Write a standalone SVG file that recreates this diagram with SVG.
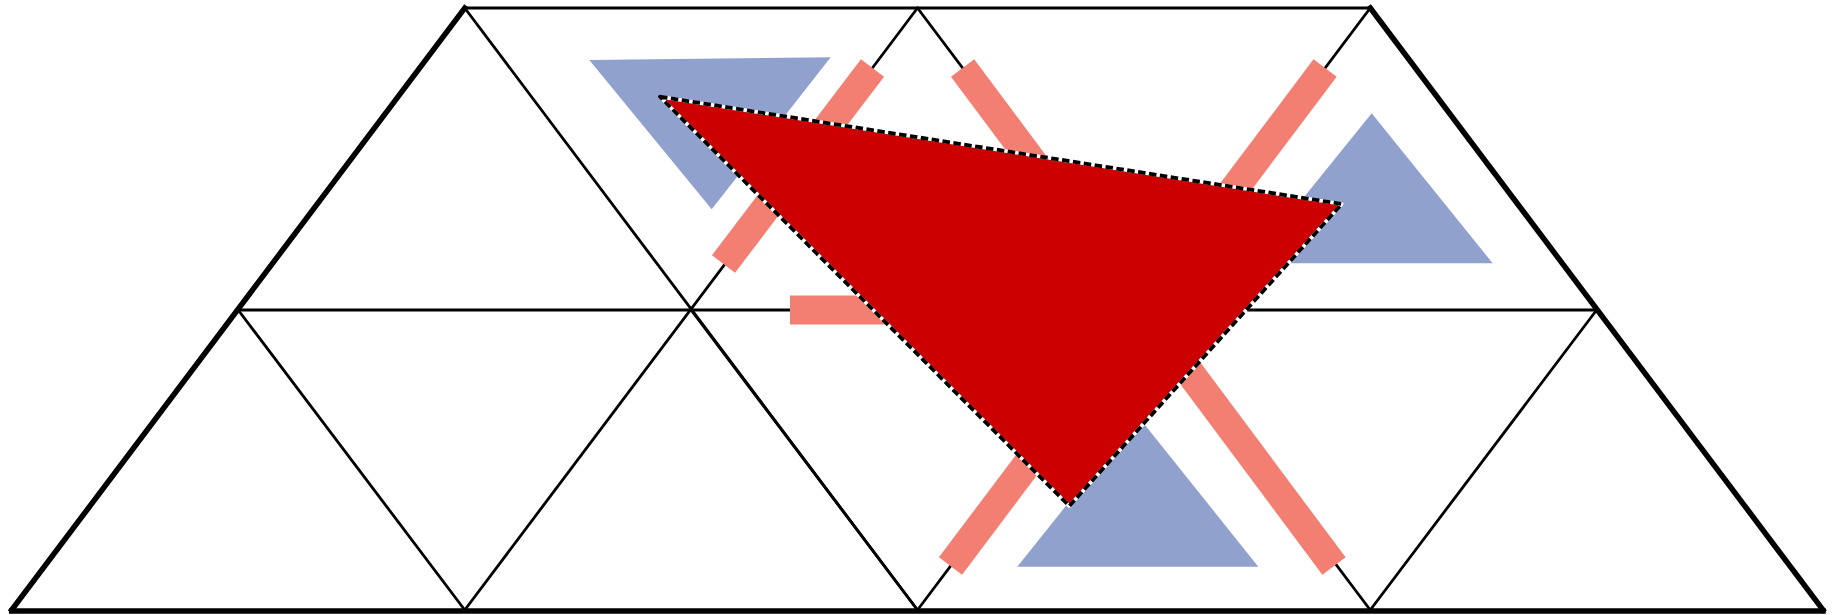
<svg xmlns="http://www.w3.org/2000/svg" width="1842" height="615" viewBox="0 0 1842 615">
<style>
.grid{stroke:#000;stroke-width:2.8;fill:none;stroke-linecap:round}
.edge{stroke:#000;stroke-width:5.5;fill:none;stroke-linecap:square}
.blue{fill:#91a1cd}
.bar{stroke:#f37e72;stroke-width:29;stroke-linecap:butt}
.red{fill:#cc0000}
.under{fill:none;stroke:#fff;stroke-width:3.6;stroke-linejoin:round}
.dash{fill:none;stroke:#000;stroke-width:3.8;stroke-dasharray:7.5 3.5;stroke-linejoin:round}
</style>
<rect width="1842" height="615" fill="#fff"/>
<g id="grid">
<line class="grid" x1="464.75" y1="8" x2="1370.25" y2="8"/>
<line class="grid" x1="238.2" y1="310" x2="1596.6" y2="310"/>
<line class="grid" x1="464.75" y1="8" x2="917.5" y2="610"/>
<line class="grid" x1="917.5" y1="8" x2="1370.25" y2="610"/>
<line class="grid" x1="238.2" y1="310" x2="464.75" y2="610"/>
<line class="grid" x1="1370.25" y1="8" x2="1596.6" y2="310"/>
<line class="grid" x1="917.5" y1="8" x2="464.75" y2="610"/>
<line class="grid" x1="1370.25" y1="8" x2="917.5" y2="610"/>
<line class="grid" x1="1596.6" y1="310" x2="1370.25" y2="610"/>
<line class="grid" x1="691.1" y1="310" x2="917.5" y2="610"/>
<line class="edge" x1="11.7" y1="611" x2="1823" y2="611"/>
<line class="edge" x1="11.7" y1="610" x2="464.75" y2="8"/>
<line class="edge" x1="1370.25" y1="8" x2="1823" y2="610"/>
</g>
<g id="blue-triangles">
<polygon id="blue1" class="blue" points="589.3,60 830.7,57.3 711.7,209.3"/>
<polygon id="blue2" class="blue" points="1371.7,113.3 1492.7,263.3 1250.7,263.3"/>
<polygon id="blue3" class="blue" points="1137.8,416 1258.3,566.7 1017.3,566.7"/>
</g>
<g id="bars">
<line id="barA" class="bar" x1="872.5" y1="68" x2="723.5" y2="264"/>
<line id="barB" class="bar" x1="962.6" y1="68" x2="1334" y2="566"/>
<line id="barC" class="bar" x1="1325.1" y1="68" x2="950.5" y2="566"/>
<line id="barD" class="bar" x1="790" y1="310" x2="1144" y2="310"/>
</g>
<g id="red-triangle">
<polygon class="red" points="660,96.7 1341.7,204 1069.3,506"/>
<polygon class="under" points="660,96.7 1341.7,204 1069.3,506"/>
<polygon class="dash" points="660,96.7 1341.7,204 1069.3,506"/>
</g>
</svg>
